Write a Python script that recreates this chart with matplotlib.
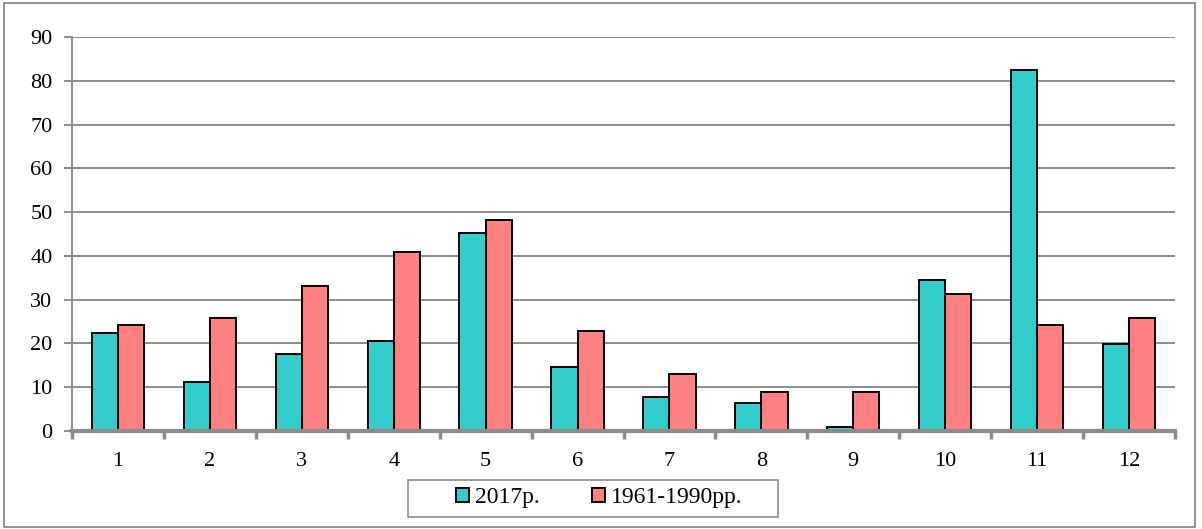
import numpy as np
import matplotlib
matplotlib.use("Agg")
import matplotlib.pyplot as plt
from matplotlib.patches import Rectangle

months = [1, 2, 3, 4, 5, 6, 7, 8, 9, 10, 11, 12]
vals_2017 = [22.5, 11.3, 17.6, 20.6, 45.3, 14.7, 7.7, 6.5, 0.8, 34.6, 82.5, 19.9]
vals_norm = [24.2, 25.9, 33.2, 40.9, 48.3, 22.8, 13.0, 9.0, 9.0, 31.2, 24.2, 25.9]
labels = ["2017р.", "1961-1990рр."]

plt.rcParams['font.family'] = ['Liberation Serif', 'DejaVu Serif']

W, H = 1202, 529
fig = plt.figure(figsize=(W / 100, H / 100), dpi=100)

# outer frame of the chart
fig.patches.append(Rectangle((4 / W, 1 - 527 / H), (1195 - 4) / W, (527 - 3) / H,
                             transform=fig.transFigure, fill=False,
                             edgecolor="#7f7f7f", linewidth=1.2))
# legend frame (wider than its content, like the original)
fig.patches.append(Rectangle((408 / W, 1 - 517 / H), (778 - 408) / W, (517 - 480) / H,
                             transform=fig.transFigure, fill=False,
                             edgecolor="#8c8c8c", linewidth=1.2))

ax = fig.add_axes([72 / W, 1 - 431 / H, (1175 - 72) / W, (431 - 37) / H])

x = np.arange(len(months))
bw = 0.285
b1 = ax.bar(x - bw / 2, vals_2017, bw, color="#33CCCC", edgecolor="black",
            linewidth=1.4, label=labels[0], zorder=3)
b2 = ax.bar(x + bw / 2, vals_norm, bw, color="#FF8080", edgecolor="black",
            linewidth=1.4, label=labels[1], zorder=3)

ax.set_xlim(-0.5, len(months) - 0.5)
ax.set_ylim(0, 90)
ax.set_yticks(range(0, 91, 10))
ax.yaxis.grid(True, color="#8c8c8c", linewidth=1.4, zorder=0)

ax.set_xticks(x)
ax.set_xticklabels([str(m) for m in months])
ax.set_xticks(np.arange(-0.5, len(months)), minor=True)
ax.tick_params(axis="x", which="major", length=0, pad=15, labelsize=16)
ax.tick_params(axis="x", which="minor", length=6, width=2.5, color="#8c8c8c", direction="out")
ax.tick_params(axis="y", length=6, width=1.4, color="#8c8c8c", pad=8, labelsize=16)

for s in ["top", "right"]:
    ax.spines[s].set_visible(False)
ax.spines["left"].set_color("#8c8c8c")
ax.spines["left"].set_linewidth(1.4)
ax.spines["bottom"].set_color("#8c8c8c")
ax.spines["bottom"].set_linewidth(3)
ax.spines["bottom"].set_zorder(4)

leg = fig.legend(handles=[b1, b2], labels=labels, loc="center",
                 bbox_to_anchor=(599 / W, 1 - 498 / H), ncol=2, frameon=False,
                 fontsize=17, handlelength=0.55, handleheight=0.55,
                 handletextpad=0.25, columnspacing=2.2, borderpad=0.2,
                 borderaxespad=0)

fig.savefig("out.png", dpi=100)
